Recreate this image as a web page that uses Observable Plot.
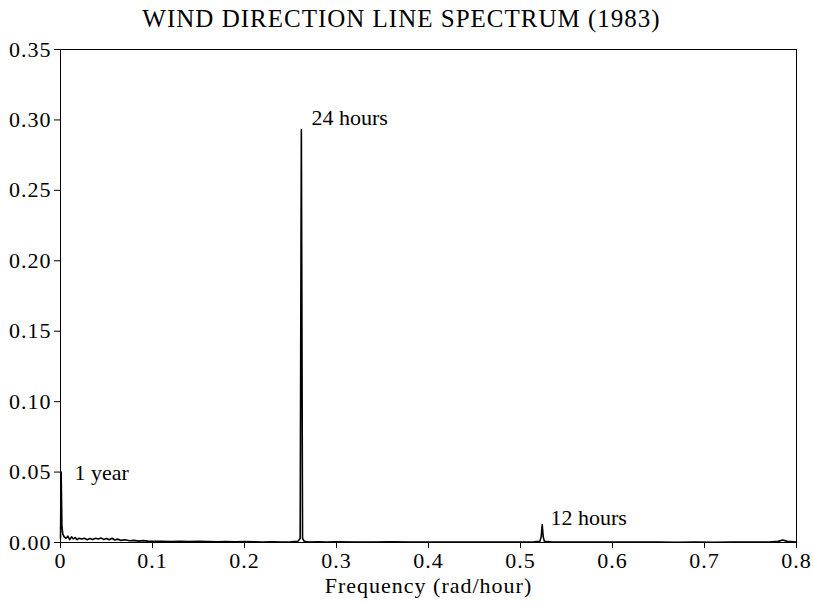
<!DOCTYPE html>
<html>
<head>
<meta charset="utf-8">
<script src="https://cdn.jsdelivr.net/npm/d3@7"></script>
<script src="https://cdn.jsdelivr.net/npm/@observablehq/plot@0.6"></script>
<style>
  html, body { margin: 0; padding: 0; background: #fff; }
  #chart svg text { letter-spacing: 1px; }
</style>
</head>
<body>
<div id="chart"></div>
<script>
const title = "WIND DIRECTION LINE SPECTRUM (1983)";
const xLabel = "Frequency (rad/hour)";
const xTicks = [0, 0.1, 0.2, 0.3, 0.4, 0.5, 0.6, 0.7, 0.8];
const yTicks = [0, 0.05, 0.10, 0.15, 0.20, 0.25, 0.30, 0.35];

// frequency (rad/hour) and spectral value
const freq = [
  0, 0.0007, 0.0015, 0.0025, 0.004, 0.006, 0.008, 0.010, 0.012, 0.014,
  0.016, 0.018, 0.020, 0.023, 0.026, 0.029, 0.032, 0.035, 0.038, 0.041,
  0.044, 0.047, 0.050, 0.053, 0.056, 0.059, 0.062, 0.066, 0.070, 0.075,
  0.080, 0.085, 0.090, 0.095, 0.100, 0.110, 0.120, 0.130, 0.140, 0.150,
  0.160, 0.170, 0.180, 0.190, 0.200, 0.210, 0.220, 0.230, 0.240, 0.250,
  0.258, 0.2605, 0.2618, 0.2631, 0.265, 0.270, 0.280, 0.290, 0.300, 0.320,
  0.340, 0.360, 0.380, 0.400, 0.420, 0.440, 0.460, 0.480, 0.500, 0.515,
  0.521, 0.5225, 0.5236, 0.5247, 0.526, 0.535, 0.550, 0.570, 0.590, 0.610,
  0.630, 0.650, 0.670, 0.690, 0.710, 0.730, 0.750, 0.770, 0.780, 0.785,
  0.790, 0.800
];
const power = [
  0.003, 0.050, 0.012, 0.006, 0.004, 0.003, 0.0045, 0.002, 0.004, 0.0025,
  0.0035, 0.002, 0.003, 0.0025, 0.0030, 0.0020, 0.0028, 0.0022, 0.0030, 0.0025,
  0.0032, 0.0022, 0.0028, 0.0020, 0.0030, 0.0018, 0.0024, 0.0015, 0.0020, 0.0012,
  0.0015, 0.0010, 0.0013, 0.0010, 0.0009, 0.0008, 0.0007, 0.0009, 0.0006, 0.0008,
  0.0006, 0.0005, 0.0007, 0.0005, 0.0006, 0.0005, 0.0004, 0.0005, 0.0004, 0.0005,
  0.0008, 0.003, 0.293, 0.003, 0.0008, 0.0004, 0.0005, 0.0004, 0.0005, 0.0004,
  0.0004, 0.0005, 0.0003, 0.0004, 0.0003, 0.0004, 0.0003, 0.0004, 0.0003, 0.0005,
  0.0008, 0.004, 0.0125, 0.004, 0.0008, 0.0004, 0.0003, 0.0003, 0.0004, 0.0003,
  0.0003, 0.0003, 0.0002, 0.0003, 0.0002, 0.0003, 0.0003, 0.0004, 0.0008, 0.0018,
  0.0008, 0.0004
];

const annoText = ["1 year", "24 hours", "12 hours"];
const annoX = [0.0152, 0.2728, 0.5326];
const annoY = [0.0497, 0.3015, 0.0177];

const data = freq.map((f, i) => ({f, p: power[i]}));
const annos = annoText.map((t, i) => ({t, x: annoX[i], y: annoY[i]}));

const chart = Plot.plot({
  width: 813,
  height: 603,
  marginLeft: 60,
  marginRight: 17,
  marginTop: 49,
  marginBottom: 61,
  style: {fontFamily: "'Liberation Serif', 'DejaVu Serif', serif", fontSize: "22px", color: "#000", background: "#fff"},
  x: {domain: [0, 0.8]},
  y: {domain: [0, 0.35]},
  marks: [
    Plot.frame({stroke: "#000", strokeWidth: 1}),
    Plot.axisX({ticks: xTicks, tickFormat: d => d === 0 ? "0" : d.toFixed(1), tickSize: 6, tickPadding: 4,
      label: xLabel, labelAnchor: "center", labelArrow: "none", labelOffset: 50, fontSize: 22}),
    Plot.axisY({ticks: yTicks, tickFormat: d => d.toFixed(2), tickSize: 6, tickPadding: 3, label: null, fontSize: 22}),
    Plot.line(data, {x: "f", y: "p", stroke: "#000", strokeWidth: 1.6}),
    Plot.text(annos, {x: "x", y: "y", text: "t", textAnchor: "start", fontSize: 22, fill: "#000"}),
    Plot.text([title], {frameAnchor: "top", lineAnchor: "middle", dx: -27, dy: -31, fontSize: 25, fill: "#000"})
  ]
});
document.getElementById("chart").appendChild(chart);
d3.select(chart).selectAll("text")
  .filter(function () { return annoText.includes(this.textContent); })
  .style("letter-spacing", "0px");
</script>
</body>
</html>
